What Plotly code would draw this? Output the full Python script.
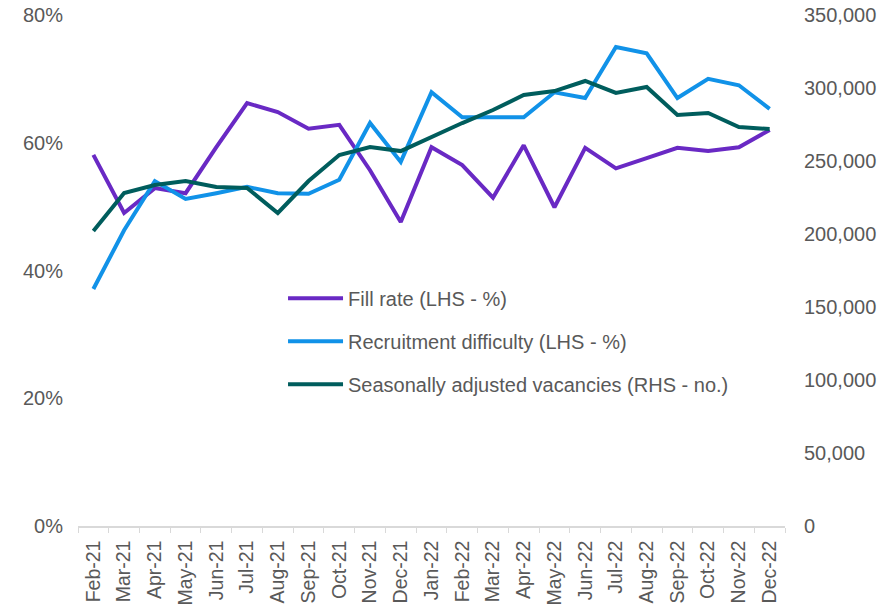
import plotly.graph_objects as go

months = ["Feb-21", "Mar-21", "Apr-21", "May-21", "Jun-21", "Jul-21", "Aug-21", "Sep-21",
          "Oct-21", "Nov-21", "Dec-21", "Jan-22", "Feb-22", "Mar-22", "Apr-22", "May-22",
          "Jun-22", "Jul-22", "Aug-22", "Sep-22", "Oct-22", "Nov-22", "Dec-22"]

fill_rate = [58.1, 49.0, 52.9, 52.1, 59.3, 66.2, 64.8, 62.2, 62.8, 55.7, 47.6, 59.3,
             56.5, 51.4, 59.6, 49.9, 59.2, 56.0, 57.6, 59.2, 58.7, 59.3, 62.0]

recruitment_difficulty = [37.1, 46.3, 54.0, 51.2, 52.1, 53.1, 52.1, 52.0, 54.2, 63.1, 57.0, 67.9,
                          64.0, 64.0, 64.0, 67.9, 67.0, 75.0, 74.0, 67.0, 70.0, 69.0, 65.3]

vacancies = [202000, 228100, 233500, 236300, 232200, 231500, 214400, 236300, 254100, 259600,
             256800, 266700, 276000, 284900, 295200, 297900, 304800, 296600, 300700, 281500,
             282900, 273300, 271900]

left_ticks = [0, 20, 40, 60, 80]
left_labels = ["0%", "20%", "40%", "60%", "80%"]
right_ticks = [0, 50000, 100000, 150000, 200000, 250000, 300000, 350000]
right_labels = ["0", "50,000", "100,000", "150,000", "200,000", "250,000", "300,000", "350,000"]

FONT = "Liberation Sans, Arial, sans-serif"
GREY = "#595959"

fig = go.Figure()
fig.add_trace(go.Scatter(x=months, y=fill_rate, mode="lines", name="Fill rate (LHS - %)",
                         line=dict(color="#6929c4", width=4), legendgroup="a"))
fig.add_trace(go.Scatter(x=months, y=recruitment_difficulty, mode="lines",
                         name="Recruitment difficulty (LHS - %)",
                         line=dict(color="#1192e8", width=4), legendgroup="b"))
fig.add_trace(go.Scatter(x=months, y=vacancies, mode="lines",
                         name="Seasonally adjusted vacancies (RHS - no.)",
                         line=dict(color="#005d5d", width=4), legendgroup="c", yaxis="y2"))

fig.update_layout(
    width=886, height=607,
    margin=dict(l=78, r=101, t=15, b=81, autoexpand=False),
    paper_bgcolor="white", plot_bgcolor="white",
    font=dict(family=FONT, size=20, color=GREY),
    showlegend=True,
    legend=dict(x=0.29, y=0.484, xanchor="left", yanchor="top", bgcolor="rgba(0,0,0,0)",
                font=dict(family=FONT, size=20, color=GREY), traceorder="grouped",
                tracegroupgap=14, itemwidth=55),
    xaxis=dict(type="category", showgrid=False, showline=True, linecolor="#d9d9d9", linewidth=1.5,
               ticks="outside", tickson="boundaries", ticklen=5, tickcolor="#d9d9d9",
               tickangle=-90, tickfont=dict(family=FONT, size=19.5, color=GREY),
               ticklabelstandoff=5, range=[-0.5, len(months) - 0.5], zeroline=False,
               automargin=False),
    yaxis=dict(range=[0, 80], tickvals=left_ticks, ticktext=left_labels, showgrid=False,
               showline=False, zeroline=False, ticks="", ticklabelstandoff=14,
               tickfont=dict(family=FONT, size=20, color=GREY), automargin=False),
    yaxis2=dict(range=[0, 350000], tickvals=right_ticks, ticktext=right_labels, overlaying="y",
                side="right", showgrid=False, showline=False, zeroline=False, ticks="",
                ticklabelstandoff=18, tickfont=dict(family=FONT, size=20, color=GREY),
                automargin=False),
)

fig.write_html("out.html", config={"displayModeBar": False},
               post_script="document.body.style.margin='0';document.body.style.overflow='hidden';")
